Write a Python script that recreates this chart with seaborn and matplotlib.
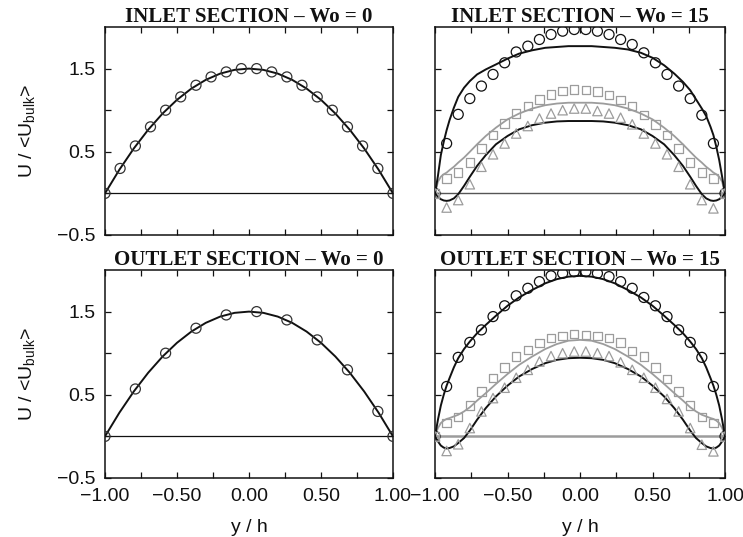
import numpy as np
import pandas as pd
import matplotlib
matplotlib.use("Agg")
import matplotlib.pyplot as plt
import seaborn as sns
from matplotlib.ticker import FixedLocator, FuncFormatter

# ---- data -------------------------------------------------------------
# Wo = 0 : laminar Poiseuille profile
wo0_line_y = [-1.0, -0.9, -0.8, -0.7, -0.6, -0.5, -0.4, -0.3, -0.2, -0.1, 0.0,
              0.1, 0.2, 0.3, 0.4, 0.5, 0.6, 0.7, 0.8, 0.9, 1.0]
wo0_line_u = [0.0, 0.285, 0.54, 0.765, 0.96, 1.125, 1.26, 1.365, 1.44, 1.485, 1.5,
              1.485, 1.44, 1.365, 1.26, 1.125, 0.96, 0.765, 0.54, 0.285, 0.0]

wo0_in_y = [-1.0, -0.895, -0.789, -0.684, -0.579, -0.474, -0.368, -0.263, -0.158, -0.053,
            0.053, 0.158, 0.263, 0.368, 0.474, 0.579, 0.684, 0.789, 0.895, 1.0]
wo0_in_u = [0.0, 0.30, 0.57, 0.80, 1.00, 1.16, 1.30, 1.40, 1.46, 1.50,
            1.50, 1.46, 1.40, 1.30, 1.16, 1.00, 0.80, 0.57, 0.30, 0.0]

wo0_out_y = [-1.0, -0.789, -0.579, -0.368, -0.158, 0.053, 0.263, 0.474, 0.684, 0.895, 1.0]
wo0_out_u = [0.0, 0.57, 1.00, 1.30, 1.46, 1.50, 1.40, 1.16, 0.80, 0.30, 0.0]

# Wo = 15 : experimental points (three phases) and computed profiles
exp_y = [-1.0, -0.92, -0.84, -0.76, -0.68, -0.60, -0.52, -0.44, -0.36, -0.28, -0.20, -0.12, -0.04,
         0.04, 0.12, 0.20, 0.28, 0.36, 0.44, 0.52, 0.60, 0.68, 0.76, 0.84, 0.92, 1.0]

in_circ = [0.0, 0.60, 0.95, 1.14, 1.29, 1.43, 1.57, 1.70, 1.77, 1.85, 1.91, 1.95, 1.97,
           1.97, 1.95, 1.91, 1.85, 1.79, 1.69, 1.57, 1.43, 1.29, 1.14, 0.94, 0.60, 0.0]
in_sq = [0.0, 0.18, 0.25, 0.37, 0.54, 0.70, 0.84, 0.96, 1.05, 1.13, 1.19, 1.23, 1.25,
         1.245, 1.225, 1.185, 1.12, 1.05, 0.94, 0.83, 0.70, 0.54, 0.37, 0.25, 0.18, 0.0]
in_tri = [0.0, -0.17, -0.08, 0.11, 0.32, 0.47, 0.60, 0.72, 0.81, 0.90, 0.96, 1.00, 1.02,
          1.02, 0.99, 0.96, 0.91, 0.83, 0.72, 0.60, 0.47, 0.32, 0.11, -0.08, -0.18, 0.0]

out_circ = [0.0, 0.60, 0.95, 1.13, 1.28, 1.44, 1.57, 1.69, 1.78, 1.86, 1.93, 1.96, 1.98,
            1.98, 1.96, 1.92, 1.86, 1.78, 1.67, 1.57, 1.44, 1.28, 1.13, 0.95, 0.60, 0.0]
out_sq = [0.0, 0.16, 0.23, 0.37, 0.54, 0.70, 0.83, 0.96, 1.04, 1.12, 1.18, 1.21, 1.23,
          1.22, 1.21, 1.18, 1.13, 1.03, 0.96, 0.83, 0.69, 0.54, 0.37, 0.23, 0.16, 0.0]
out_tri = [0.0, -0.175, -0.095, 0.10, 0.30, 0.46, 0.585, 0.705, 0.80, 0.90, 0.965, 1.00, 1.02,
           1.02, 1.00, 0.965, 0.89, 0.80, 0.705, 0.585, 0.45, 0.30, 0.10, -0.10, -0.18, 0.0]

line_y = [-1.0, -0.98, -0.96, -0.94, -0.92, -0.90, -0.87, -0.84, -0.80, -0.76, -0.71, -0.65, -0.58,
          -0.50, -0.42, -0.33, -0.24, -0.16, -0.08, 0.0, 0.08, 0.16, 0.24, 0.33, 0.42, 0.50,
          0.58, 0.65, 0.71, 0.76, 0.80, 0.84, 0.87, 0.90, 0.92, 0.94, 0.96, 0.98, 1.0]

in_line_top = [0.0, 0.21, 0.46, 0.62, 0.76, 0.88, 1.03, 1.16, 1.27, 1.35, 1.43, 1.49, 1.55,
               1.62, 1.68, 1.72, 1.75, 1.76, 1.77, 1.77, 1.77, 1.76, 1.75, 1.73, 1.69, 1.63,
               1.54, 1.44, 1.34, 1.24, 1.13, 1.02, 0.93, 0.80, 0.70, 0.56, 0.40, 0.20, 0.0]
in_line_mid = [0.0, 0.14, 0.20, 0.23, 0.25, 0.28, 0.32, 0.37, 0.43, 0.50, 0.59, 0.69, 0.79,
               0.89, 0.96, 1.02, 1.06, 1.08, 1.09, 1.09, 1.09, 1.08, 1.06, 1.02, 0.96, 0.89,
               0.79, 0.69, 0.59, 0.50, 0.43, 0.37, 0.32, 0.28, 0.25, 0.23, 0.20, 0.14, 0.0]
in_line_low = [0.0, -0.04, -0.07, -0.085, -0.09, -0.085, -0.06, -0.01, 0.09, 0.20, 0.33, 0.46, 0.59,
               0.69, 0.77, 0.82, 0.85, 0.865, 0.87, 0.87, 0.87, 0.865, 0.85, 0.82, 0.77, 0.69,
               0.59, 0.46, 0.33, 0.20, 0.09, -0.01, -0.06, -0.085, -0.09, -0.085, -0.07, -0.04, 0.0]

out_line_top = [0.0, 0.20, 0.37, 0.50, 0.61, 0.70, 0.83, 0.94, 1.05, 1.14, 1.24, 1.34, 1.45,
                1.57, 1.67, 1.76, 1.84, 1.89, 1.92, 1.93, 1.92, 1.89, 1.84, 1.76, 1.67, 1.57,
                1.45, 1.34, 1.24, 1.14, 1.05, 0.94, 0.83, 0.70, 0.61, 0.50, 0.37, 0.20, 0.0]
out_line_mid = [0.0, 0.10, 0.16, 0.19, 0.21, 0.22, 0.24, 0.26, 0.30, 0.35, 0.43, 0.52, 0.63,
                0.75, 0.86, 0.96, 1.05, 1.11, 1.15, 1.16, 1.15, 1.11, 1.05, 0.96, 0.86, 0.75,
                0.63, 0.52, 0.43, 0.35, 0.30, 0.26, 0.24, 0.22, 0.21, 0.19, 0.16, 0.10, 0.0]
out_line_low = [0.0, -0.06, -0.11, -0.135, -0.145, -0.14, -0.12, -0.08, -0.02, 0.07, 0.20, 0.34, 0.48,
                0.61, 0.72, 0.81, 0.88, 0.92, 0.94, 0.945, 0.94, 0.92, 0.88, 0.81, 0.72, 0.61,
                0.48, 0.34, 0.20, 0.07, -0.02, -0.08, -0.12, -0.14, -0.145, -0.135, -0.11, -0.06, 0.0]

titles = ["INLET SECTION \u2013 Wo = 0", "INLET SECTION \u2013 Wo = 15",
          "OUTLET SECTION \u2013 Wo = 0", "OUTLET SECTION \u2013 Wo = 15"]

# ---- style ------------------------------------------------------------
sns.set_theme(style="ticks")
plt.rcParams["font.family"] = ["Liberation Sans", "DejaVu Sans"]
plt.rcParams["mathtext.default"] = "regular"

BLACK = "#111111"
GRAY = "#9c9c9c"

fig = plt.figure(figsize=(7.43, 5.37), dpi=100)
ax_tl = fig.add_axes([0.1413, 0.5624, 0.3876, 0.3873])
ax_tr = fig.add_axes([0.5855, 0.5624, 0.3903, 0.3873])
ax_bl = fig.add_axes([0.1413, 0.1099, 0.3876, 0.3873])
ax_br = fig.add_axes([0.5855, 0.1099, 0.3903, 0.3873])
axes = [ax_tl, ax_tr, ax_bl, ax_br]


def draw_line(ax, y, u, color, lw=1.4):
    sns.lineplot(x=y, y=u, ax=ax, color=color, linewidth=lw, sort=False, estimator=None)


def draw_pts(ax, y, u, marker, color, size):
    sns.scatterplot(x=y, y=u, ax=ax, marker=marker, s=size, facecolor="none",
                    edgecolor=color, linewidth=0.9, zorder=3)


def fmt(decimals):
    return FuncFormatter(lambda v, pos: f"{v:.{decimals}f}".replace("-", "\u2212"))


# zero lines
for ax, col, lw in [(ax_tl, BLACK, 0.9), (ax_bl, BLACK, 0.9), (ax_tr, "#555555", 1.0), (ax_br, GRAY, 1.8)]:
    ax.axhline(0.0, color=col, linewidth=lw, zorder=1)

# Wo = 0
draw_line(ax_tl, wo0_line_y, wo0_line_u, BLACK)
draw_pts(ax_tl, wo0_in_y, wo0_in_u, "o", "#333333", 52)
draw_line(ax_bl, wo0_line_y, wo0_line_u, BLACK)
draw_pts(ax_bl, wo0_out_y, wo0_out_u, "o", "#333333", 52)

# Wo = 15 inlet
draw_line(ax_tr, line_y, in_line_mid, GRAY, 1.3)
draw_line(ax_tr, line_y, in_line_top, BLACK)
draw_line(ax_tr, line_y, in_line_low, BLACK)
draw_pts(ax_tr, exp_y, in_circ, "o", BLACK, 52)
draw_pts(ax_tr, exp_y, in_sq, "s", GRAY, 36)
draw_pts(ax_tr, exp_y, in_tri, "^", GRAY, 46)

# Wo = 15 outlet
draw_line(ax_br, line_y, out_line_mid, GRAY, 1.3)
draw_line(ax_br, line_y, out_line_top, BLACK)
draw_line(ax_br, line_y, out_line_low, BLACK)
draw_pts(ax_br, exp_y, out_circ, "o", BLACK, 52)
draw_pts(ax_br, exp_y, out_sq, "s", GRAY, 36)
draw_pts(ax_br, exp_y, out_tri, "^", GRAY, 46)

for i, ax in enumerate(axes):
    ax.set_xlim(-1.0, 1.0)
    ax.set_ylim(-0.5, 2.0)
    ax.xaxis.set_major_locator(FixedLocator([-1.0, -0.5, 0.0, 0.5, 1.0]))
    ax.xaxis.set_minor_locator(FixedLocator([-0.75, -0.25, 0.25, 0.75]))
    ax.yaxis.set_major_locator(FixedLocator([-0.5, 0.5, 1.5]))
    ax.yaxis.set_minor_locator(FixedLocator([0.0, 1.0]))
    ax.xaxis.set_major_formatter(fmt(2))
    ax.yaxis.set_major_formatter(fmt(1))
    ax.tick_params(which="both", direction="in", top=True, right=True,
                   length=4, width=0.9, labelsize=14, pad=7, colors=BLACK)
    for sp in ax.spines.values():
        sp.set_visible(True)
        sp.set_linewidth(1.1)
        sp.set_color(BLACK)
    ax.set_title(titles[i], fontfamily="Liberation Serif", fontweight="bold",
                 fontsize=15, pad=1.5, color=BLACK)
    ax.set_xlabel("")
    ax.set_ylabel("")
    if i in (1, 3):
        ax.tick_params(labelleft=False)
    else:
        ax.set_ylabel(r"U / <U$_{\mathregular{bulk}}$>", fontsize=14, labelpad=14, color=BLACK)
    if i in (0, 1):
        ax.tick_params(labelbottom=False)
    else:
        ax.set_xlabel("y / h", fontsize=14, labelpad=10, color=BLACK)

fig.savefig("out.png", dpi=100)
